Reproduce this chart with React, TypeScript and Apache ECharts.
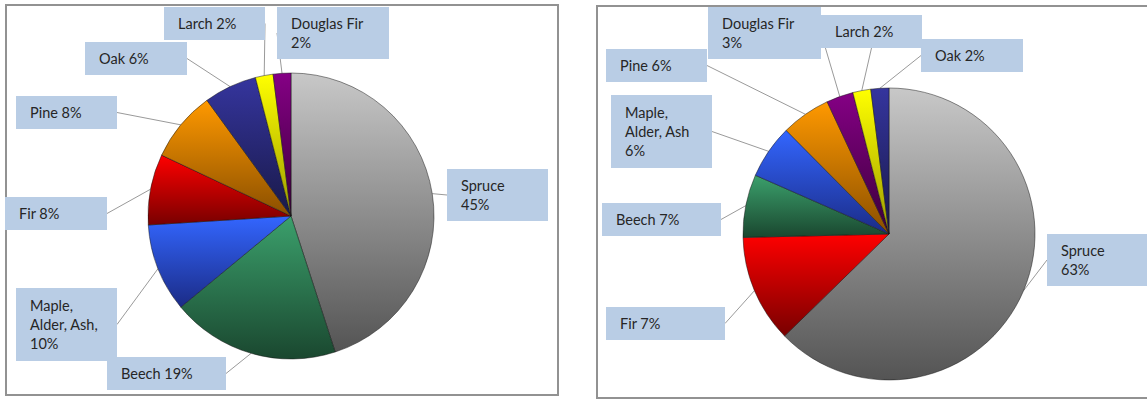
import React, { useEffect, useRef } from "react";
import * as echarts from "echarts";

// ---- Data ----
const leftNames = ["Spruce", "Beech", "Maple, Alder, Ash", "Fir", "Pine", "Oak", "Larch", "Douglas Fir"];
const leftValues = [45, 19, 10, 8, 8, 6, 2, 2];
const leftLabels = ["Spruce\n45%", "Beech 19%", "Maple,\nAlder, Ash,\n10%", "Fir 8%", "Pine 8%", "Oak 6%", "Larch 2%", "Douglas Fir\n2%"];

const rightNames = ["Spruce", "Fir", "Beech", "Maple, Alder, Ash", "Pine", "Douglas Fir", "Larch", "Oak"];
const rightValues = [63, 12, 7, 6, 5.5, 3, 2, 2];
const rightLabels = ["Spruce\n63%", "Fir 7%", "Beech 7%", "Maple,\nAlder, Ash\n6%", "Pine 6%", "Douglas Fir\n3%", "Larch 2%", "Oak 2%"];

// ---- Styles ----
const speciesColors: Record<string, [string, string]> = {
  Spruce: ["#c8c8c8", "#545454"],
  Beech: ["#3ba06c", "#1a472f"],
  "Maple, Alder, Ash": ["#3366ff", "#1b2b86"],
  Fir: ["#ff0000", "#780000"],
  Pine: ["#ff9900", "#8a4f00"],
  Oak: ["#35359e", "#191948"],
  Larch: ["#ffff00", "#9c9c00"],
  "Douglas Fir": ["#850085", "#3a003a"],
};

// label box layout: [left, top, width]
const leftBoxes = [
  [447, 169, 101],
  [107, 357, 119],
  [16, 288, 101],
  [5, 197, 102],
  [16, 96, 101],
  [85, 42, 102],
  [164, 7, 101],
  [277, 7, 112],
];
const rightBoxes = [
  [1047, 234, 112],
  [606, 307, 119],
  [602, 203, 119],
  [611, 95, 101],
  [606, 49, 101],
  [708, 7, 113],
  [821, 15, 101],
  [921, 39, 102],
];

function buildData(names: string[], values: number[], labels: string[], boxes: number[][]) {
  return names.map((n, i) => {
    const [c1, c2] = speciesColors[n];
    const lines = labels[i].split("\n").length;
    const pv = lines === 3 ? 8 : 7;
    return {
      name: n,
      value: values[i],
      itemStyle: {
        color: new echarts.graphic.LinearGradient(0, 0, 0, 1, [
          { offset: 0, color: c1 },
          { offset: 1, color: c2 },
        ]),
      },
      label: {
        width: boxes[i][2] - 20,
        padding: [pv, 6, pv, 14],
      },
    };
  });
}

function makeSeries(
  names: string[],
  values: number[],
  labels: string[],
  boxes: number[][],
  center: number[],
  radius: number
) {
  return {
    type: "pie",
    center,
    radius,
    startAngle: 90,
    clockwise: true,
    avoidLabelOverlap: false,
    silent: true,
    data: buildData(names, values, labels, boxes),
    itemStyle: { borderColor: "rgba(20,20,20,0.6)", borderWidth: 0.8 },
    label: {
      show: true,
      position: "outside",
      formatter: (p: any) => labels[p.dataIndex],
      color: "#262626",
      fontFamily: "Lato",
      fontSize: 14.5,
      lineHeight: 19,
      backgroundColor: "#b9cde5",
      align: "left",
    },
    labelLine: {
      show: true,
      length: 10,
      length2: 0,
      smooth: false,
      lineStyle: { color: "#9a9a9a", width: 1 },
    },
    labelLayout: (params: any) => {
      const b = boxes[params.dataIndex];
      return { x: b[0], y: b[1], align: "left", verticalAlign: "top" };
    },
    emphasis: { disabled: true },
  };
}

export default function App() {
  const ref = useRef<HTMLDivElement>(null);
  useEffect(() => {
    if (!ref.current) return;
    const chart = echarts.init(ref.current, undefined, { renderer: "svg" });
    chart.setOption({
      animation: false,
      graphic: [
        {
          type: "rect",
          z: -10,
          shape: { x: 6, y: 5, width: 552, height: 390 },
          style: { fill: "#ffffff", stroke: "#929292", lineWidth: 2 },
        },
        {
          type: "rect",
          z: -10,
          shape: { x: 597, y: 6, width: 570, height: 392 },
          style: { fill: "#ffffff", stroke: "#929292", lineWidth: 2 },
        },
      ],
      series: [
        makeSeries(leftNames, leftValues, leftLabels, leftBoxes, [291, 216], 143),
        makeSeries(rightNames, rightValues, rightLabels, rightBoxes, [889, 234], 146),
      ],
    });
    return () => chart.dispose();
  }, []);
  return (
    <div
      ref={ref}
      style={{ position: "absolute", left: 0, top: 0, width: 1147, height: 401, background: "#fff" }}
    />
  );
}
